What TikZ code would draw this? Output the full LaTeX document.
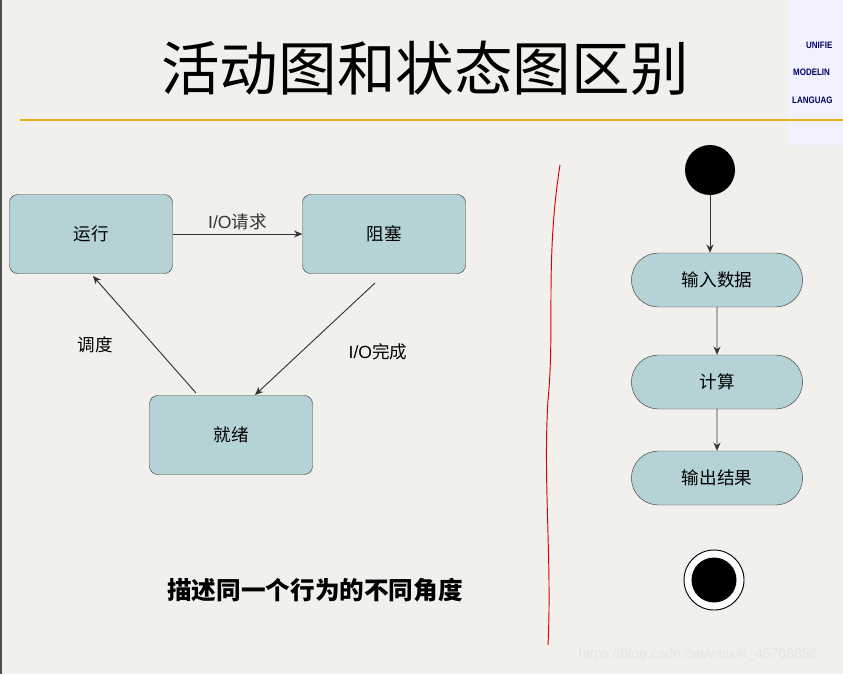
\documentclass[tikz,border=0pt]{standalone}
\usepackage{fontspec}
\setmainfont{Noto Sans CJK SC}
\newfontfamily\latn{Liberation Sans}
\usetikzlibrary{arrows.meta,shapes.misc}
\definecolor{bg}{HTML}{F2F0EC}
\definecolor{st}{HTML}{B5D3D6}
\definecolor{gold}{HTML}{E2B21C}
\begin{document}
\begin{tikzpicture}[x=0.03cm,y=-0.03cm,
  state/.style={draw=black!75,fill=st,rounded corners=7pt,minimum width=4.89cm,minimum height=2.37cm,font=\fontsize{15}{15}\selectfont},
  act/.style={draw=black!75,fill=st,rounded rectangle,minimum width=5.37cm,minimum height=1.62cm,font=\fontsize{15}{15}\selectfont},
  arr/.style={-{Stealth[length=7pt,width=6pt]},black!80,thick},
  lab/.style={font=\fontsize{15}{15}\selectfont},
  lg/.style={font=\fontsize{8}{8}\selectfont\bfseries\latn,text=blue!40!black,anchor=west,inner sep=0,xscale=0.85}]
\useasboundingbox (0,0) rectangle (843,674);
\fill[bg] (0,0) rectangle (843,674);
\draw[black!70,line width=2pt] (1,0) -- (1,674);
\fill[white!95!blue] (787,0) rectangle (843,145);
\node[lg] (l1) at (806,45) {UNIFIE};
\node[lg] (l2) at (793,72) {MODELIN};
\node[lg] (l3) at (792,100) {LANGUAG};
\node[font=\fontsize{50}{50}\selectfont] (title) at (425,68) {活动图和状态图区别};
\draw[gold,line width=2.5pt] (20,120) -- (843,120);
\node[state] (run) at (91,234) {运行};
\node[state] (blk) at (384,234) {阻塞};
\node[state] (rdy) at (231,435) {就绪};
\draw[arr] (run.east) -- (blk.west) node[midway,above,lab] {\latn I/O\rmfamily 请求};
\draw[arr] (375,283) -- (255,395);
\node[lab] (l4) at (378,352) {\latn I/O\rmfamily 完成};
\draw[arr] (196,393) -- (93,276);
\node[lab] (l5) at (95,345) {调度};
\node[font=\fontsize{21}{21}\selectfont\bfseries] (cap) at (315,590) {描述同一个行为的不同角度};
\draw[red!85!black,thick] (560,165) .. controls (545,260) and (555,330) .. (548,400) .. controls (543,480) and (552,560) .. (548,645);
\node[circle,fill=black,minimum size=1.5cm,inner sep=0] (init) at (710,170) {};
\node[act] (a1) at (717,280) {输入数据};
\node[act] (a2) at (717,382) {计算};
\node[act] (a3) at (717,478) {输出结果};
\node[circle,draw=black,thick,fill=white,minimum size=1.8cm,inner sep=0] (fin) at (714,580) {};
\node[circle,fill=black,minimum size=1.35cm,inner sep=0] (fin2) at (714,580) {};
\draw[arr] (init) -- (init |- a1.north);
\draw[arr] (a1) -- (a2);
\draw[arr] (a2) -- (a3);
\node[font=\fontsize{12}{12}\selectfont\latn,text=white!80!gray] (wm) at (698,655) {https://blog.csdn.net/weixin\_45706856};
\end{tikzpicture}
\end{document}
